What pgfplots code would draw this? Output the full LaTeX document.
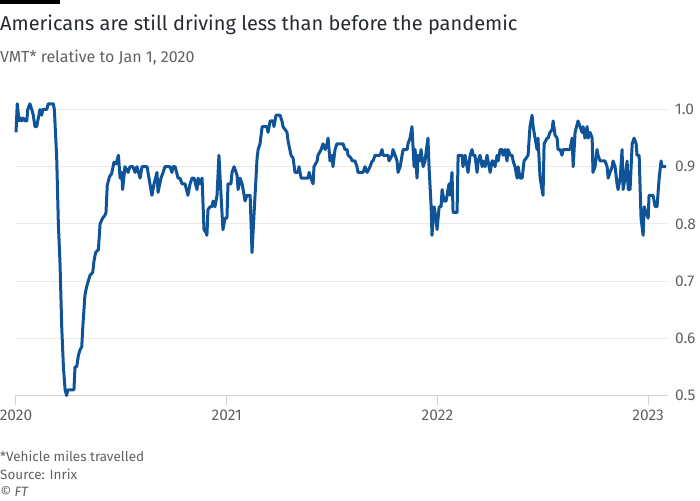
\documentclass[border=0pt]{standalone}
\usepackage{fontspec}
\setmainfont{Fira Sans}
\usepackage{pgfplots}
\pgfplotsset{compat=1.18}
\definecolor{ftblue}{HTML}{0F5499}
\definecolor{fttext}{HTML}{262A33}
\definecolor{ftgrey}{HTML}{66605C}
\definecolor{ftgrid}{HTML}{EDE9E5}
\definecolor{ftaxis}{HTML}{D4CEC8}

\begin{document}
\begin{tikzpicture}[x=1pt,y=1pt]
\useasboundingbox (0,0) rectangle (700,500);
\fill[black] (0,496) rectangle (60,500);
\node[anchor=base west,inner sep=0,font=\fontsize{20}{24}\selectfont,text=fttext]
  at (0,469) {Americans are still driving less than before the pandemic};
\node[anchor=base west,inner sep=0,font=\fontsize{16}{19}\selectfont,text=ftgrey]
  at (0,437) {VMT* relative to Jan 1, 2020};

\begin{axis}[
  at={(16pt,104.5pt)}, anchor=south west,
  scale only axis, width=652pt, height=286pt,
  xmin=0, xmax=3.094, ymin=0.5, ymax=1.0,
  clip=false,
  axis x line*=bottom, axis y line*=right,
  y axis line style={draw=none},
  x axis line style={ftaxis,line width=1pt},
  xtick={0,1,2,3},
  xticklabels={2020,2021,2022,2023},
  ytick={0.5,0.6,0.7,0.8,0.9,1.0},
  tick align=outside,
  x tick style={ftaxis,line width=1pt},
  major tick length=10pt,
  y tick style={draw=none},
  ymajorgrids,
  grid style={ftgrid,line width=1pt},
  tick label style={font=\fontsize{15.5}{18}\selectfont,text=ftgrey},
  yticklabel style={anchor=west,inner sep=0pt,xshift=-3pt},
  xticklabel style={anchor=north,inner sep=0pt,yshift=-4pt},
  /pgf/number format/.cd, fixed, fixed zerofill, precision=1, assume math mode=true,
]
% VMT relative to 1 Jan 2020; x in years since 1 Jan 2020
\addplot[ftblue,line width=3pt,line join=round] coordinates {
(0,0.96)(0.006,1.01)(0.014,0.98)(0.022,0.985)(0.027,0.98)(0.035,0.985)(0.043,0.98)
(0.051,0.98)(0.056,1.0)(0.066,1.01)(0.075,1.0)(0.082,0.99)(0.090,0.97)(0.098,0.97)
(0.106,0.985)(0.114,1.0)(0.122,0.99)(0.127,1.0)(0.138,1.0)(0.146,1.0)(0.153,1.01)
(0.177,1.01)(0.182,1.0)(0.193,0.917)(0.201,0.80)(0.209,0.73)(0.217,0.62)(0.225,0.55)
(0.233,0.51)(0.240,0.50)(0.246,0.51)(0.275,0.51)(0.280,0.55)(0.288,0.55)(0.296,0.57)
(0.304,0.58)(0.312,0.585)(0.317,0.62)(0.327,0.675)(0.335,0.69)(0.343,0.70)(0.351,0.71)
(0.364,0.715)(0.370,0.735)(0.378,0.75)(0.391,0.755)(0.399,0.80)(0.411,0.81)(0.422,0.815)
(0.427,0.82)(0.433,0.867)(0.443,0.882)(0.454,0.888)(0.465,0.908)(0.475,0.905)(0.486,0.92)
(0.494,0.88)(0.502,0.89)(0.506,0.86)(0.517,0.90)
(0.532,0.89)(0.541,0.90)(0.555,0.90)(0.565,0.89)(0.574,0.90)(0.589,0.88)(0.598,0.90)
(0.622,0.90)(0.631,0.88)(0.645,0.85)(0.655,0.87)(0.669,0.89)(0.674,0.855)(0.688,0.88)
(0.698,0.89)(0.707,0.90)(0.731,0.90)(0.740,0.89)(0.745,0.90)(0.755,0.90)(0.769,0.88)
(0.778,0.88)(0.788,0.87)(0.802,0.87)(0.816,0.85)(0.826,0.87)(0.835,0.88)(0.845,0.88)
(0.859,0.86)(0.864,0.88)(0.873,0.87)(0.883,0.88)(0.892,0.79)(0.902,0.785)(0.906,0.78)
(0.911,0.825)(0.921,0.83)(0.930,0.83)(0.935,0.84)(0.944,0.83)(0.954,0.85)(0.963,0.92)
(0.973,0.85)(0.982,0.79)(0.992,0.81)(1.001,0.81)(1.006,0.87)(1.020,0.87)(1.025,0.89)
(1.035,0.90)(1.049,0.885)(1.054,0.86)(1.063,0.88)(1.073,0.87)(1.087,0.84)(1.096,0.85)
(1.111,0.85)(1.120,0.75)(1.130,0.82)(1.144,0.915)(1.149,0.93)(1.158,0.94)(1.168,0.97)
(1.191,0.97)(1.196,0.96)(1.206,0.98)(1.220,0.98)(1.224,0.97)(1.234,0.99)(1.243,0.99)
(1.253,0.99)(1.262,0.98)(1.267,0.97)(1.277,0.965)(1.286,0.96)(1.291,0.945)(1.305,0.92)
(1.315,0.915)(1.324,0.89)(1.338,0.89)(1.343,0.90)(1.353,0.88)(1.386,0.88)(1.391,0.89)
(1.400,0.88)(1.410,0.87)(1.414,0.90)(1.429,0.91)(1.433,0.92)(1.448,0.93)(1.457,0.94)
(1.467,0.93)(1.476,0.94)(1.481,0.95)(1.490,0.91)(1.500,0.92)(1.504,0.90)(1.514,0.93)
(1.523,0.94)(1.552,0.94)(1.561,0.93)(1.571,0.93)(1.576,0.92)(1.590,0.915)(1.595,0.91)
(1.609,0.91)(1.618,0.90)(1.623,0.89)(1.647,0.89)(1.656,0.90)(1.666,0.89)(1.680,0.90)
(1.690,0.91)(1.694,0.91)(1.704,0.92)(1.728,0.92)(1.737,0.93)(1.742,0.92)(1.766,0.92)
(1.770,0.91)(1.785,0.92)(1.789,0.93)(1.799,0.92)(1.808,0.91)(1.813,0.89)(1.823,0.90)
(1.832,0.92)(1.837,0.93)(1.856,0.93)(1.860,0.94)(1.870,0.95)(1.879,0.97)(1.889,0.90)
(1.894,0.93)(1.903,0.88)(1.908,0.92)(1.917,0.91)(1.922,0.93)(1.932,0.90)(1.941,0.91)
(1.951,0.94)(1.955,0.95)(1.960,0.90)(1.970,0.83)(1.974,0.78)(1.984,0.83)(1.993,0.81)
(1.998,0.79)(2.008,0.83)(2.017,0.83)(2.022,0.86)(2.031,0.84)(2.041,0.84)(2.050,0.86)
(2.055,0.87)(2.060,0.85)(2.069,0.89)(2.074,0.82)(2.093,0.82)(2.098,0.92)(2.117,0.92)
(2.121,0.90)(2.131,0.92)(2.145,0.89)(2.155,0.92)(2.164,0.93)(2.169,0.92)(2.178,0.92)
(2.188,0.89)(2.193,0.91)(2.202,0.92)(2.212,0.90)(2.216,0.91)(2.226,0.90)(2.235,0.92)
(2.240,0.91)(2.250,0.89)(2.259,0.91)(2.264,0.91)(2.273,0.90)(2.283,0.92)(2.288,0.91)
(2.297,0.93)(2.307,0.93)(2.311,0.92)(2.321,0.93)(2.330,0.91)(2.335,0.93)(2.345,0.92)
(2.354,0.92)(2.359,0.91)(2.368,0.90)(2.378,0.88)(2.383,0.90)(2.392,0.88)(2.402,0.88)
(2.411,0.91)(2.421,0.915)(2.430,0.92)(2.439,0.97)(2.449,0.99)(2.454,0.97)(2.463,0.95)
(2.473,0.93)(2.477,0.95)(2.487,0.88)(2.496,0.86)(2.501,0.85)(2.506,0.94)(2.520,0.95)
(2.525,0.95)(2.534,0.96)(2.544,0.965)(2.549,0.98)(2.558,0.955)(2.568,0.95)(2.572,0.93)
(2.582,0.93)(2.591,0.92)(2.596,0.93)(2.629,0.93)(2.639,0.95)(2.644,0.90)(2.653,0.96)
(2.667,0.98)(2.677,0.97)(2.686,0.96)(2.691,0.97)(2.700,0.95)(2.710,0.97)(2.715,0.95)
(2.724,0.96)(2.734,0.95)(2.738,0.89)(2.748,0.90)(2.757,0.93)(2.762,0.92)(2.772,0.91)
(2.795,0.91)(2.805,0.90)(2.810,0.88)(2.819,0.89)(2.829,0.90)(2.833,0.91)(2.843,0.90)
(2.852,0.87)(2.857,0.86)(2.867,0.88)(2.876,0.93)(2.881,0.86)(2.890,0.88)(2.900,0.91)
(2.905,0.86)(2.914,0.86)(2.924,0.94)(2.933,0.95)(2.943,0.94)(2.947,0.92)(2.957,0.92)
(2.966,0.81)(2.976,0.78)(2.981,0.83)(2.990,0.82)(3.000,0.81)(3.004,0.85)(3.023,0.85)
(3.033,0.83)(3.042,0.83)(3.052,0.88)(3.061,0.91)(3.066,0.90)(3.071,0.90)(3.085,0.90)
};
\end{axis}

\node[anchor=base west,inner sep=0,font=\fontsize{13.5}{16}\selectfont,text=ftgrey]
  at (0,38.5) {*Vehicle miles travelled};
\node[anchor=base west,inner sep=0,font=\fontsize{13.5}{16}\selectfont,text=ftgrey]
  at (0,21) {Source: Inrix};
\node[anchor=base west,inner sep=0,font=\fontsize{13.5}{16}\selectfont\itshape,text=ftgrey]
  at (0,4) {\textcopyright{} FT};
\end{tikzpicture}
\end{document}
